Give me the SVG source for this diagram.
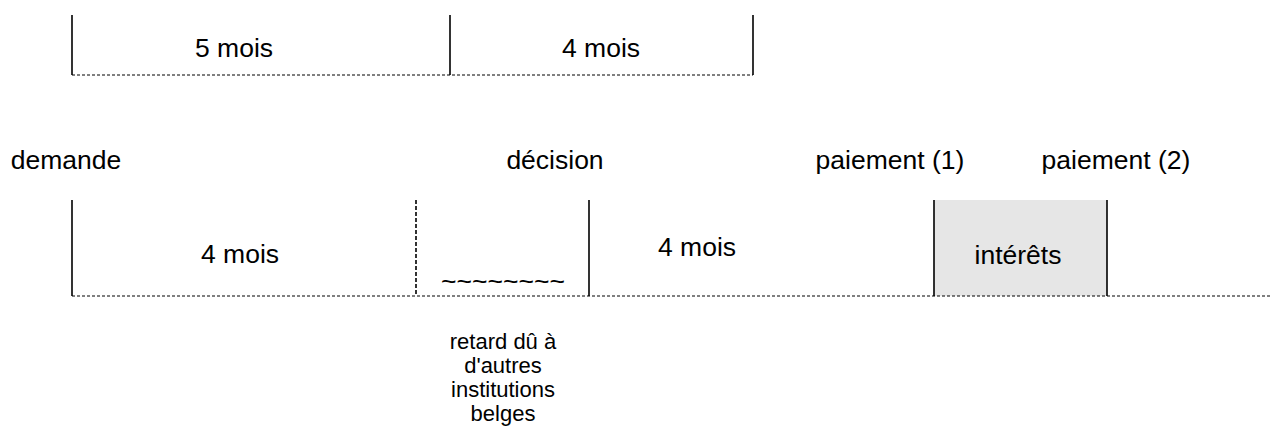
<svg xmlns="http://www.w3.org/2000/svg" width="1272" height="434" viewBox="0 0 1272 434">
<style>
.t{font-family:"Liberation Sans",Arial,sans-serif;font-size:26.5px;fill:#000;text-anchor:middle}
.r{font-family:"Liberation Sans",Arial,sans-serif;font-size:22px;fill:#000;text-anchor:middle}
.s{stroke:#000;stroke-width:1.6;fill:none}
.d{stroke:#000;stroke-width:1;stroke-dasharray:3,2;fill:none}
.dv{stroke:#000;stroke-width:1.6;stroke-dasharray:4,2;fill:none}
</style>
<rect x="0" y="0" width="1272" height="434" fill="#fff"/>
<g id="top">
<line class="s" x1="72" y1="15" x2="72" y2="75"/>
<line class="s" x1="450" y1="15" x2="450" y2="75"/>
<line class="s" x1="753" y1="15" x2="753" y2="75"/>
<line class="d" x1="72" y1="75" x2="753" y2="75"/>
<text class="t" x="234" y="57">5 mois</text>
<text class="t" x="601" y="57">4 mois</text>
</g>
<g id="labels">
<text class="t" x="66" y="169">demande</text>
<text class="t" x="555" y="169">décision</text>
<text class="t" x="890" y="169">paiement (1)</text>
<text class="t" x="1116" y="169">paiement (2)</text>
</g>
<g id="interets">
<rect x="934" y="200" width="173" height="96" fill="#e6e6e6"/>
<text class="t" x="1018" y="264">intérêts</text>
</g>
<g id="bottom">
<line class="s" x1="72" y1="200" x2="72" y2="296"/>
<line class="dv" x1="416" y1="200" x2="416" y2="296"/>
<line class="s" x1="589" y1="200" x2="589" y2="296"/>
<line class="s" x1="934" y1="200" x2="934" y2="296"/>
<line class="s" x1="1107" y1="200" x2="1107" y2="296"/>
<line class="d" x1="72" y1="296" x2="1272" y2="296"/>
<text class="t" x="240" y="263">4 mois</text>
<text class="t" x="697" y="256">4 mois</text>
<text class="t" x="503" y="290">~~~~~~~~</text>
</g>
<g id="retard">
<text class="r" x="503" y="349">retard dû à</text>
<text class="r" x="503" y="373">d'autres</text>
<text class="r" x="503" y="397">institutions</text>
<text class="r" x="503" y="421">belges</text>
</g>
</svg>
